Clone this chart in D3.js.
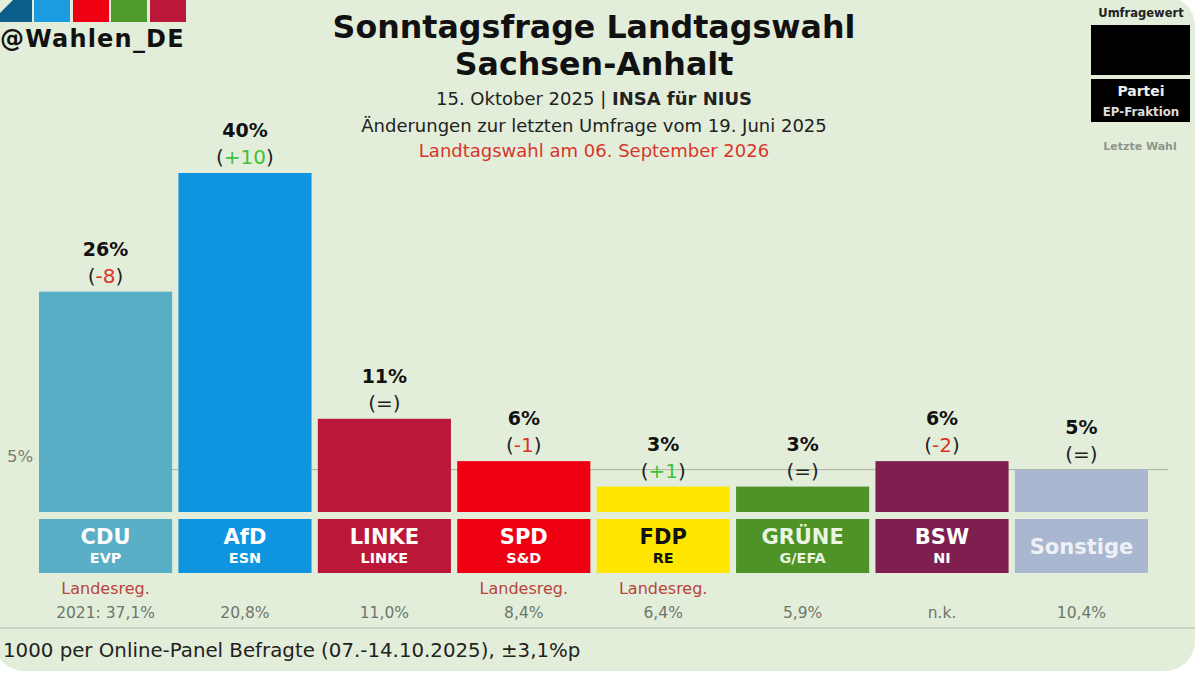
<!DOCTYPE html>
<html>
<head>
<meta charset="utf-8">
<script src="https://cdn.jsdelivr.net/npm/d3@7"></script>
<style>
html,body{margin:0;padding:0;background:#fff;overflow:hidden}
text{font-family:"DejaVu Sans",sans-serif}
</style>
</head>
<body>
<script>
var parties = ['CDU','AfD','LINKE','SPD','FDP','GRÜNE','BSW','Sonstige'];
var fractions = ['EVP','ESN','LINKE','S&D','RE','G/EFA','NI',''];
var values = [26,40,11,6,3,3,6,5];
var changes = ['-8','+10','=','-1','+1','=','-2','='];
var lastVote = ['2021: 37,1%','20,8%','11,0%','8,4%','6,4%','5,9%','n.k.','10,4%'];
var govt = ['CDU','SPD','FDP'];
var colors = ['#58afc6','#0f94df','#bb1738','#ee0012','#ffe600','#4f9228','#7e1f4f','#a9b8d0'];
var labelColors = ['#fff','#fff','#fff','#fff','#111','#e8f5e0','#fff','#eef1f5'];
var logoColors = ['#0b5f8a','#1b9be0','#ee0012','#4f9c2c','#bb1738'];
var logoX = [-8,34,73,111,150];

var svg = d3.select('body').append('svg')
    .attr('width',1200)
    .attr('height',678);

// background card
svg.append('rect')
    .attr('x',-6)
    .attr('y',-4)
    .attr('width',1201)
    .attr('height',675)
    .attr('rx',30)
    .attr('fill','#e3eeda');

svg.append('line')
    .attr('x1',0).attr('x2',1195)
    .attr('y1',628).attr('y2',628)
    .attr('stroke','#a3ab9e')
    .attr('stroke-width',0.8);

// logo
svg.selectAll('.logo').data(logoColors).enter().append('rect')
    .attr('x',function(d,i){return logoX[i];})
    .attr('y',0)
    .attr('width',function(d,i){return i==0 ? 40 : 36;})
    .attr('height',22)
    .attr('fill',function(d){return d;});

svg.append('path')
    .attr('d','M0 0 L13 0 L0 13 Z')
    .attr('fill','#e3eeda');

svg.append('text')
    .attr('x',0)
    .attr('y',47)
    .attr('font-size',24)
    .attr('font-weight',700)
    .attr('letter-spacing',1.2)
    .attr('fill','#111')
    .text('@Wahlen_DE');

// titles
var titles = [
    {t:'Sonntagsfrage Landtagswahl',y:38,s:31.7,w:700,c:'#111'},
    {t:'Sachsen-Anhalt',y:75,s:31.7,w:700,c:'#111'},
    {t:'Änderungen zur letzten Umfrage vom 19. Juni 2025',y:132,s:18,w:400,c:'#222'},
    {t:'Landtagswahl am 06. September 2026',y:157,s:18,w:400,c:'#d8352a'}
];
svg.selectAll('.title').data(titles).enter().append('text')
    .attr('x',594)
    .attr('y',function(d){return d.y;})
    .attr('text-anchor','middle')
    .attr('font-size',function(d){return d.s;})
    .attr('font-weight',function(d){return d.w;})
    .attr('fill',function(d){return d.c;})
    .text(function(d){return d.t;});

var sub = svg.append('text')
    .attr('x',594)
    .attr('y',105)
    .attr('text-anchor','middle')
    .attr('font-size',18)
    .attr('fill','#222');
sub.append('tspan').text('15. Oktober 2025 | ');
sub.append('tspan').attr('font-weight',700).text('INSA für NIUS');

// legend
svg.append('text').attr('x',1141).attr('y',17).attr('text-anchor','middle')
    .attr('font-size',11.5).attr('font-weight',700).attr('fill','#222').text('Umfragewert');
svg.append('rect').attr('x',1091).attr('y',25).attr('width',99).attr('height',50).attr('fill','#000');
svg.append('rect').attr('x',1091).attr('y',79).attr('width',99).attr('height',43).attr('fill','#000');
svg.append('text').attr('x',1141).attr('y',96).attr('text-anchor','middle')
    .attr('font-size',14).attr('font-weight',700).attr('fill','#eee').text('Partei');
svg.append('text').attr('x',1141).attr('y',116).attr('text-anchor','middle')
    .attr('font-size',11.8).attr('font-weight',700).attr('fill','#ddd').text('EP-Fraktion');
svg.append('text').attr('x',1140).attr('y',150).attr('text-anchor','middle')
    .attr('font-size',11).attr('font-weight',700).attr('fill','#8d968a').text('Letzte Wahl');

// scales
var x = d3.scaleBand().domain(parties).range([39,1148]).paddingInner(0.045);
var y = d3.scaleLinear().domain([0,40]).range([512,173]);

// 5% line
svg.append('line')
    .attr('x1',39).attr('x2',1168)
    .attr('y1',y(5)).attr('y2',y(5))
    .attr('stroke','#a8b09f')
    .attr('stroke-width',1);

svg.append('text')
    .attr('x',7)
    .attr('y',y(5)-8)
    .attr('font-size',16.5)
    .attr('fill','#777f74')
    .text('5%');

// bars
svg.selectAll('.bar').data(parties).enter().append('rect')
    .attr('class','bar')
    .attr('x',function(d){return x(d);})
    .attr('y',function(d,i){return y(values[i]);})
    .attr('width',x.bandwidth())
    .attr('height',function(d,i){return y(0)-y(values[i]);})
    .attr('fill',function(d,i){return colors[i];});

// name boxes
svg.selectAll('.box').data(parties).enter().append('rect')
    .attr('class','box')
    .attr('x',function(d){return x(d);})
    .attr('y',519)
    .attr('width',x.bandwidth())
    .attr('height',54)
    .attr('fill',function(d,i){return colors[i];});

svg.selectAll('.name').data(parties).enter().append('text')
    .attr('x',function(d){return x(d)+x.bandwidth()/2;})
    .attr('y',function(d,i){return fractions[i]=='' ? 554 : 544;})
    .attr('text-anchor','middle')
    .attr('font-size',21)
    .attr('font-weight',700)
    .attr('fill',function(d,i){return labelColors[i];})
    .text(function(d){return d;});

svg.selectAll('.frac').data(parties).enter().append('text')
    .attr('x',function(d){return x(d)+x.bandwidth()/2;})
    .attr('y',563)
    .attr('text-anchor','middle')
    .attr('font-size',14.4)
    .attr('font-weight',700)
    .attr('fill',function(d,i){return labelColors[i];})
    .text(function(d,i){return fractions[i];});

// value labels
svg.selectAll('.val').data(parties).enter().append('text')
    .attr('x',function(d){return x(d)+x.bandwidth()/2;})
    .attr('y',function(d,i){return y(values[i])-36;})
    .attr('text-anchor','middle')
    .attr('font-size',19)
    .attr('font-weight',700)
    .attr('fill','#111')
    .text(function(d,i){return values[i]+'%';});

var chg = svg.selectAll('.chg').data(parties).enter().append('text')
    .attr('x',function(d){return x(d)+x.bandwidth()/2;})
    .attr('y',function(d,i){return y(values[i])-9;})
    .attr('text-anchor','middle')
    .attr('font-size',20)
    .attr('fill','#222');
chg.append('tspan').text('(');
chg.append('tspan')
    .attr('fill',function(d,i){
        var c = changes[i];
        return c[0]=='+' ? '#3fc23a' : c[0]=='-' ? '#d8352a' : '#222';
    })
    .text(function(d,i){return changes[i];});
chg.append('tspan').text(')');

// below boxes
svg.selectAll('.gov').data(govt).enter().append('text')
    .attr('x',function(d){return x(d)+x.bandwidth()/2;})
    .attr('y',594)
    .attr('text-anchor','middle')
    .attr('font-size',16)
    .attr('fill','#b8443a')
    .text('Landesreg.');

svg.selectAll('.last').data(parties).enter().append('text')
    .attr('x',function(d){return x(d)+x.bandwidth()/2;})
    .attr('y',618)
    .attr('text-anchor','middle')
    .attr('font-size',15.5)
    .attr('fill','#6e766c')
    .text(function(d,i){return lastVote[i];});

svg.append('text')
    .attr('x',3)
    .attr('y',657)
    .attr('font-size',19.8)
    .attr('fill','#222')
    .text('1000 per Online-Panel Befragte (07.-14.10.2025), ±3,1%p');
</script>
</body>
</html>
